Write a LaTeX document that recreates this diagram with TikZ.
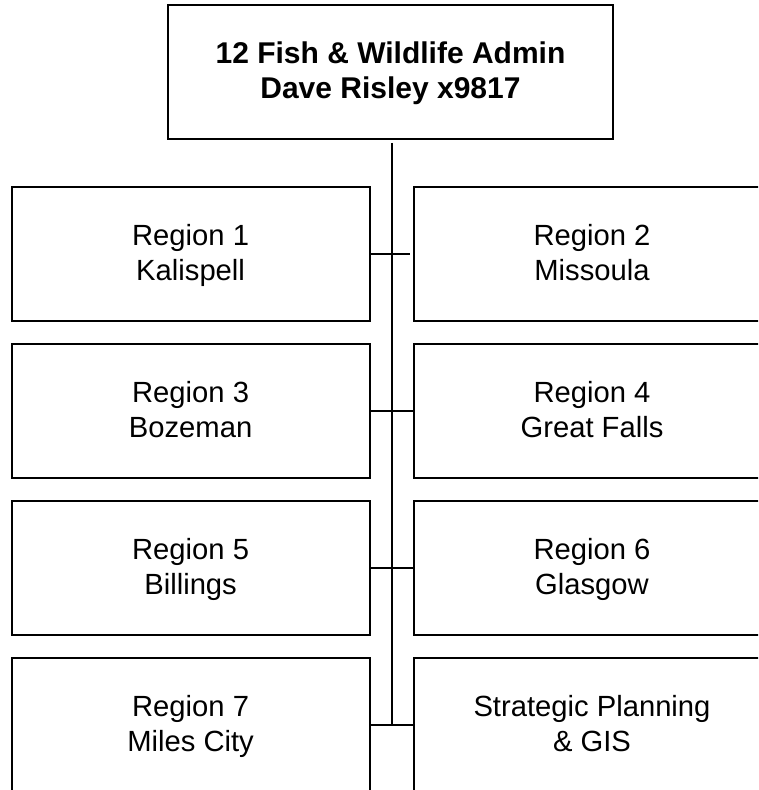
\documentclass[tikz,border=0pt]{standalone}
\usepackage{fontspec}
\setmainfont{Liberation Sans}
\newcommand{\twolines}[2]{\rule{0pt}{14.25pt}#1\\#2\rule[-5.25pt]{0pt}{5.25pt}}

\begin{document}
\begin{tikzpicture}[%
  x=0.5pt, y=-0.5pt,
  unit/.style={draw, line width=0.9pt, align=center, inner sep=0pt,
    minimum width=179pt, minimum height=67pt,
    font=\fontsize{14.6}{17.5}\selectfont},
  runit/.style={unit, minimum width=178pt},
  headunit/.style={unit, minimum width=222.5pt, font=\fontsize{15}{17.8}\selectfont\bfseries},
  tie/.style={line width=0.9pt}]
\useasboundingbox (0,0) rectangle (758,790);
\clip (0,0) rectangle (758,790);
% head
\node[headunit] (admin) at (390.5,72) {\twolines{12 Fish \& Wildlife Admin}{Dave Risley x9817}};
% regions
\node[unit]  (kal) at (190.6,254.3) {\twolines{Region 1}{Kalispell}};
\node[runit] (mis) at (592,254.3)   {\twolines{Region 2}{Missoula}};
\node[unit]  (boz) at (190.6,411)   {\twolines{Region 3}{Bozeman}};
\node[runit] (grf) at (592,411)     {\twolines{Region 4}{Great Falls}};
\node[unit]  (bil) at (190.6,568)   {\twolines{Region 5}{Billings}};
\node[runit] (gla) at (592,568)     {\twolines{Region 6}{Glasgow}};
\node[unit]  (mic) at (190.6,725)   {\twolines{Region 7}{Miles City}};
\node[runit] (gis) at (592,725)     {\twolines{Strategic Planning}{\& GIS}};
% spine and ties
\coordinate (spine) at ([xshift=0.75pt]admin.south);
\draw[tie] ([yshift=-1.5pt]spine) -- (spine |- mic.east);
\draw[tie] (kal.east) -- ([xshift=-1.7pt]mis.west);
\draw[tie] (boz.east) -- ([xshift=1pt]grf.west);
\draw[tie] (bil.east) -- (gla.west);
\draw[tie] (mic.east) -- (gis.west);
\end{tikzpicture}
\end{document}
